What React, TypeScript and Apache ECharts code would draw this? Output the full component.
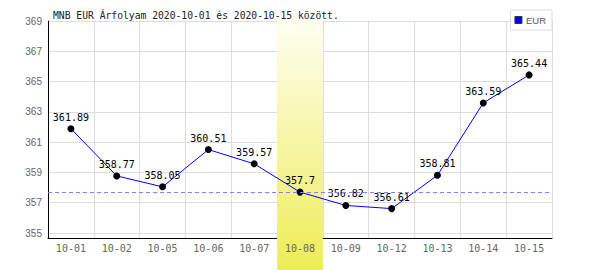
import React, { useEffect, useRef } from "react";
import * as echarts from "echarts";

const categories = ["10-01", "10-02", "10-05", "10-06", "10-07", "10-08", "10-09", "10-12", "10-13", "10-14", "10-15"];
const eurValues = [361.89, 358.77, 358.05, 360.51, 359.57, 357.7, 356.82, 356.61, 358.81, 363.59, 365.44];
const yTicks = [355, 357, 359, 361, 363, 365, 367, 369];
const highlightCategory = "10-08";
const referenceValue = 357.7;
const titleText = "MNB EUR Árfolyam 2020-10-01 és 2020-10-15 között.";
const seriesName = "EUR";

const MONO = "'DejaVu Sans Mono', monospace";
const SANS = "'Liberation Sans', Arial, sans-serif";

export default function App() {
  const ref = useRef<HTMLDivElement>(null);

  useEffect(() => {
    if (!ref.current) return;
    const chart = echarts.init(ref.current, undefined, { renderer: "svg" });
    const grid = { left: 48, right: 48, top: 21, bottom: 32 };
    chart.setOption({
      animation: false,
      backgroundColor: "#ffffff",
      title: {
        text: titleText,
        left: 48,
        top: 10,
        padding: [0, 5],
        textStyle: { fontFamily: MONO, fontSize: 9.7, fontWeight: "normal", color: "#222" },
      },
      legend: {
        top: 10,
        right: 48,
        orient: "horizontal",
        backgroundColor: "#ffffff",
        borderColor: "#dddddd",
        borderWidth: 1,
        borderRadius: 0,
        padding: [5, 6, 5, 4],
        itemWidth: 7,
        itemHeight: 7,
        itemGap: 4,
        textStyle: { fontFamily: SANS, fontSize: 9.5, color: "#555", padding: [0, 0, 0, -1] },
        data: [
          {
            name: seriesName,
            icon: "rect",
            itemStyle: { color: "#0000ff", borderColor: "#333", borderWidth: 1 },
          },
        ],
        z: 10,
      },
      grid,
      xAxis: [
        {
          type: "category",
          data: categories,
          boundaryGap: true,
          z: 0,
          axisLine: { show: true, lineStyle: { color: "#000", width: 1 } },
          axisTick: { show: false },
          axisLabel: { show: false },
          splitLine: { show: true, lineStyle: { color: "#dddddd", width: 1 } },
        },
        {
          type: "category",
          data: categories,
          boundaryGap: true,
          position: "bottom",
          z: 3,
          axisLine: { show: false },
          axisTick: { show: false },
          splitLine: { show: false },
          axisLabel: { show: true, margin: 5, fontFamily: MONO, fontSize: 10, color: "#666" },
        },
      ],
      yAxis: {
        type: "value",
        min: 354.67,
        max: 369,
        z: 0,
        axisLine: { show: true, lineStyle: { color: "#000", width: 1 } },
        axisTick: { show: false, customValues: yTicks },
        axisLabel: { show: true, customValues: yTicks, margin: 6, fontFamily: SANS, fontSize: 10, color: "#666" },
        splitLine: { show: true, lineStyle: { color: "#dddddd", width: 1 } },
      },
      series: [
        {
          name: "ref",
          type: "line",
          data: [],
          z: 0,
          silent: true,
          markLine: {
            silent: true,
            symbol: "none",
            label: { show: false },
            lineStyle: { color: "#8080ff", type: [4, 3], width: 1 },
            data: [{ yAxis: referenceValue }],
          },
        },
        {
          name: seriesName,
          type: "line",
          data: eurValues,
          z: 2,
          symbol: "circle",
          symbolSize: 7,
          itemStyle: { color: "#000" },
          lineStyle: { color: "#0000ff", width: 1 },
          label: {
            show: true,
            position: "top",
            distance: 3,
            fontFamily: MONO,
            fontSize: 10,
            color: "#000",
          },
        },
      ],
    });

    const idx = categories.indexOf(highlightCategory);
    const cx = chart.convertToPixel({ xAxisIndex: 0 }, idx) as number;
    const x0 = chart.convertToPixel({ xAxisIndex: 0 }, 0) as number;
    const x1 = chart.convertToPixel({ xAxisIndex: 0 }, 1) as number;
    const bw = x1 - x0;
    const yTop = (chart.convertToPixel({ yAxisIndex: 0 }, 369) as number) - 1;
    const h = chart.getHeight();
    chart.setOption({
      graphic: [
        {
          type: "rect",
          z: 1,
          silent: true,
          shape: { x: cx - bw / 2, y: yTop, width: bw, height: h - yTop },
          style: {
            fill: new echarts.graphic.LinearGradient(0, 0, 0, 1, [
              { offset: 0, color: "#fefef2" },
              { offset: 1, color: "#eeec55" },
            ]),
          },
        },
      ],
    });

    return () => chart.dispose();
  }, []);

  return <div ref={ref} style={{ position: "fixed", left: 0, top: 0, width: 600, height: 270 }} />;
}
